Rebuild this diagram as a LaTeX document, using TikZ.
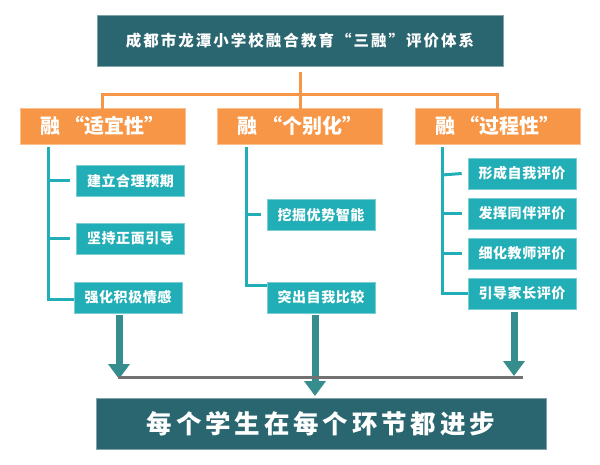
\documentclass[tikz,border=0pt]{standalone}
\usepackage{fontspec}
\setmainfont{Noto Sans CJK SC}
\newfontfamily\titlef{Noto Sans CJK SC}[LetterSpace=13]
\newfontfamily\bigf{Noto Sans CJK SC}[LetterSpace=15]
\newfontfamily\subf{Noto Sans CJK SC}[LetterSpace=4]
\usetikzlibrary{arrows.meta}
\definecolor{darkteal}{HTML}{2A6670}
\definecolor{orng}{HTML}{F79646}
\definecolor{teal2}{HTML}{22AEB6}
\definecolor{arrteal}{HTML}{358D8D}
\definecolor{grayline}{HTML}{727272}
\begin{document}
\begin{tikzpicture}[x=1pt,y=-1pt,
  base/.style={inner sep=0pt, text=white, font=\bfseries},
  dkbox/.style={base, fill=darkteal, draw=darkteal!60!white, line width=0.6pt},
  orbox/.style={base, fill=orng, draw=orng!60!white, line width=0.6pt, minimum width=165pt, minimum height=36pt, font=\bfseries\fontsize{20}{20}\selectfont},
  subbox/.style={base, fill=teal2, draw=teal2!60!white, line width=0.6pt, minimum width=108pt, minimum height=31pt, font=\subf\bfseries\fontsize{14}{14}\selectfont},
  orline/.style={draw=orng, line width=3pt},
  brline/.style={draw=teal2, line width=3pt},
  bigarrow/.style={draw=arrteal, line width=7pt, -{Triangle[width=21pt,length=15pt]}},
]
\useasboundingbox (0,0) rectangle (600,465);
% title
\node[dkbox, minimum width=406pt, minimum height=51pt, font=\titlef\bfseries\fontsize{15.5}{15.5}\selectfont] (title) at (300,40.5) {成都市龙潭小学校融合教育“三融”评价体系};
% orange boxes
\node[orbox] (o1) at (102.5,126) {融 “适宜性”};
\node[orbox] (o2) at (300,126) {融 “个别化”};
\node[orbox] (o3) at (497.5,126) {融 “过程性”};
% orange connector
\coordinate (ot) at (300,72);
\coordinate (oh) at (300,89);
\draw[orline] (ot) -- (oh);
\draw[orline] ([yshift=-3pt]o1.north) -- ++(0,-16) -| ([yshift=-3pt]o3.north);
\draw[orline] (oh) -- ([yshift=-3pt]o2.north);
% left column
\node[subbox] (a1) at (130.5,181) {建立合理预期};
\node[subbox] (a2) at (130.5,238.5) {坚持正面引导};
\node[subbox] (a3) at (128,297.5) {强化积极情感};
\coordinate (at) at (48,147);
\draw[brline] (at) |- ([yshift=-2pt]a3.west);
\draw[brline] (48,181) -- ([xshift=-6pt]a1.west);
\draw[brline] (48,238.5) -- ([xshift=-6pt]a2.west);
% middle column
\node[subbox] (b1) at (321,215) {挖掘优势智能};
\node[subbox] (b2) at (321,297.5) {突出自我比较};
\coordinate (bt) at (246,147);
\draw[brline] (bt) |- ([yshift=-4pt]b2.north west);
\draw[brline] (246,215) -- ([xshift=-6pt]b1.west);
% right column
\node[subbox] (c1) at (522,173.5) {形成自我评价};
\node[subbox] (c2) at (522,213.5) {发挥同伴评价};
\node[subbox] (c3) at (522,253.5) {细化教师评价};
\node[subbox] (c4) at (522,293.5) {引导家长评价};
\coordinate (ct) at (442,147);
\draw[brline] (ct) |- ([xshift=0pt]c4.west);
\draw[brline] (442,175) -- ([xshift=-6pt]c1.west);
\draw[brline] (442,213.5) -- ([xshift=-6pt]c2.west);
\draw[brline] (442,253.5) -- ([xshift=-6pt]c3.west);
% arrows
\coordinate (l1) at (119,315); \coordinate (l2) at (119,379);
\coordinate (m1) at (315,315); \coordinate (m2) at (315,396);
\coordinate (r1) at (514,312); \coordinate (r2) at (514,376);
\draw[bigarrow] (l1) -- (l2);
\draw[bigarrow] (m1) -- (m2);
\draw[bigarrow] (r1) -- (r2);
\coordinate (g1) at (118,377); \coordinate (g2) at (523,377);
\draw[grayline, line width=3pt] (g1) -- (g2);
% bottom box
\node[dkbox, minimum width=450pt, minimum height=51pt, font=\bigf\bfseries\fontsize{25.5}{25.5}\selectfont] (bottom) at (321,423.5) {每个学生在每个环节都进步};
\end{tikzpicture}
\end{document}
